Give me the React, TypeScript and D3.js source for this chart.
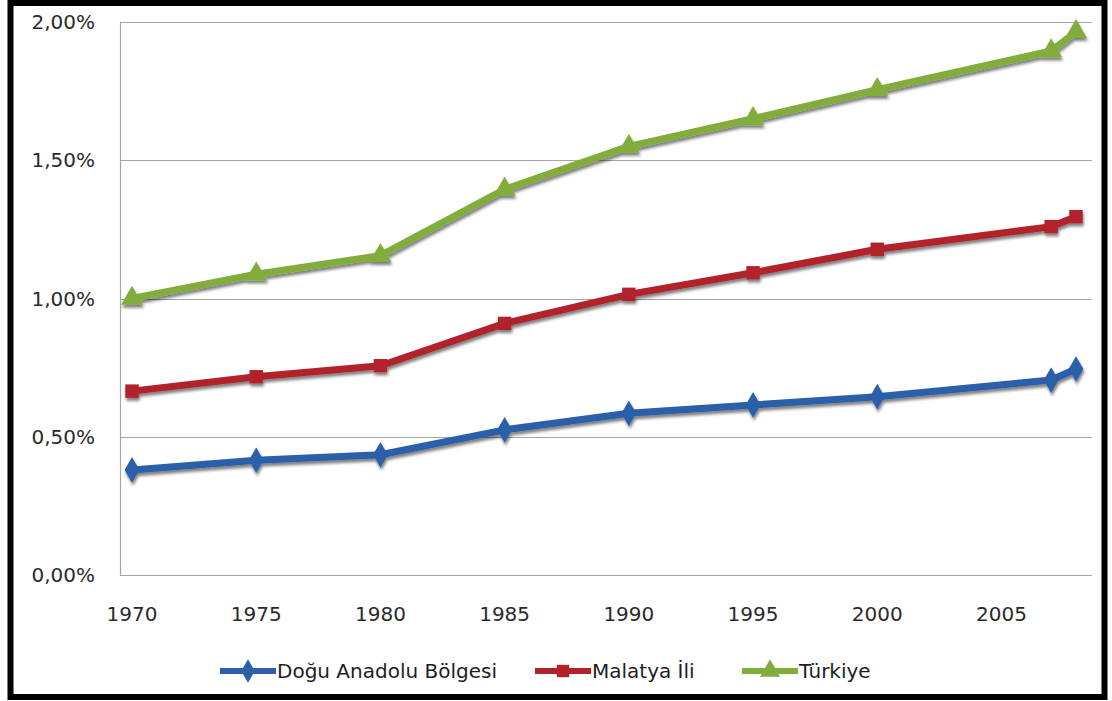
import { useMemo } from 'react';
import * as d3 from 'd3';

// years on a date-like (linear) axis: 2007 and 2008 sit between 2005 ticks
const years = [1970, 1975, 1980, 1985, 1990, 1995, 2000, 2007, 2008];
const doguAnadolu = [0.38, 0.415, 0.435, 0.525, 0.585, 0.615, 0.645, 0.705, 0.745];
const malatya = [0.665, 0.717, 0.757, 0.91, 1.015, 1.093, 1.178, 1.26, 1.296];
const turkiye = [1.0, 1.088, 1.155, 1.395, 1.55, 1.65, 1.755, 1.895, 1.965];

const xTicks = [1970, 1975, 1980, 1985, 1990, 1995, 2000, 2005];
const yTicks = [0, 0.5, 1, 1.5, 2];

const seriesNames = ['Doğu Anadolu Bölgesi', 'Malatya İli', 'Türkiye'];
const seriesColors = ['#2c5ea9', '#b2222a', '#82ad3c'];
const seriesSymbols = [d3.symbolDiamond, d3.symbolSquare, d3.symbolTriangle];
const legendX = [220, 535, 742];

const W = 1112;
const H = 701;
const plotLeft = 120;
const plotRight = 1092;
const plotTop = 22;
const plotBottom = 575;
const font = '"DejaVu Sans", sans-serif';

const fmt = (v: number) => v.toFixed(2).replace('.', ',') + '%';

export default function App() {
  const x = useMemo(() => d3.scaleLinear().domain([1970, 2008]).range([132, 1076]), []);
  const y = useMemo(() => d3.scaleLinear().domain([0, 2]).range([plotBottom, plotTop]), []);

  const allSeries = [doguAnadolu, malatya, turkiye];
  const line = d3
    .line<number>()
    .x((_, i) => x(years[i]))
    .y((d) => y(d));

  const sizes = [190, 180, 210];

  return (
    <div style={{ position: 'absolute', left: 0, top: 0 }}>
      <svg width={W} height={H} style={{ display: 'block', background: '#fff' }}>
        <defs>
          <filter id="shadow" x="-10%" y="-10%" width="120%" height="130%">
            <feGaussianBlur in="SourceAlpha" stdDeviation="1.8" />
            <feOffset dx="1" dy="3" result="off" />
            <feComponentTransfer>
              <feFuncA type="linear" slope="0.5" />
            </feComponentTransfer>
            <feMerge>
              <feMergeNode />
              <feMergeNode in="SourceGraphic" />
            </feMerge>
          </filter>
        </defs>

        {/* gridlines */}
        {yTicks.map((t) =>
          t === 0 ? null : (
            <line
              key={'g' + t}
              x1={plotLeft}
              x2={plotRight}
              y1={Math.round(y(t)) + 0.5}
              y2={Math.round(y(t)) + 0.5}
              stroke="#a6a6a6"
              strokeWidth={1.2}
            />
          )
        )}
        {/* axes */}
        <line x1={plotLeft + 0.5} x2={plotLeft + 0.5} y1={plotTop} y2={plotBottom} stroke="#a6a6a6" strokeWidth={1.2} />
        <line x1={plotLeft} x2={plotRight} y1={plotBottom + 0.5} y2={plotBottom + 0.5} stroke="#a6a6a6" strokeWidth={1.2} />

        {/* y labels */}
        {yTicks.map((t) => (
          <text
            key={'y' + t}
            x={95}
            y={y(t)}
            dy="0.36em"
            textAnchor="end"
            fontFamily={font}
            fontSize={20}
            fill="#2a2a2a"
          >
            {fmt(t)}
          </text>
        ))}

        {/* x labels */}
        {xTicks.map((t) => (
          <text
            key={'x' + t}
            x={x(t)}
            y={614}
            dy="0.36em"
            textAnchor="middle"
            fontFamily={font}
            fontSize={20}
            fill="#2a2a2a"
          >
            {t}
          </text>
        ))}

        {/* series */}
        {allSeries.map((vals, si) => (
          <g key={'s' + si} filter="url(#shadow)">
            <path
              d={line(vals) ?? ''}
              fill="none"
              stroke={seriesColors[si]}
              strokeWidth={7}
              strokeLinejoin="round"
              strokeLinecap="round"
            />
            {vals.map((v, i) => (
              <path
                key={i}
                d={d3.symbol().type(seriesSymbols[si]).size(sizes[si])() ?? ''}
                transform={`translate(${x(years[i])},${y(v)})`}
                fill={seriesColors[si]}
              />
            ))}
          </g>
        ))}

        {/* legend */}
        {seriesNames.map((name, si) => (
          <g key={'l' + si} transform={`translate(${legendX[si]},671)`}>
            <line x1={0} x2={56} y1={0} y2={0} stroke={seriesColors[si]} strokeWidth={6} />
            <path
              d={d3.symbol().type(seriesSymbols[si]).size(sizes[si] * 0.85)() ?? ''}
              transform="translate(28,0)"
              fill={seriesColors[si]}
            />
            <text x={57} y={0} dy="0.36em" fontFamily={font} fontSize={20} fill="#1e1e1e">
              {name}
            </text>
          </g>
        ))}

        {/* outer frame */}
        <rect x={10.5} y={3} width={1094} height={694} fill="none" stroke="#000" strokeWidth={6} />
      </svg>
    </div>
  );
}
